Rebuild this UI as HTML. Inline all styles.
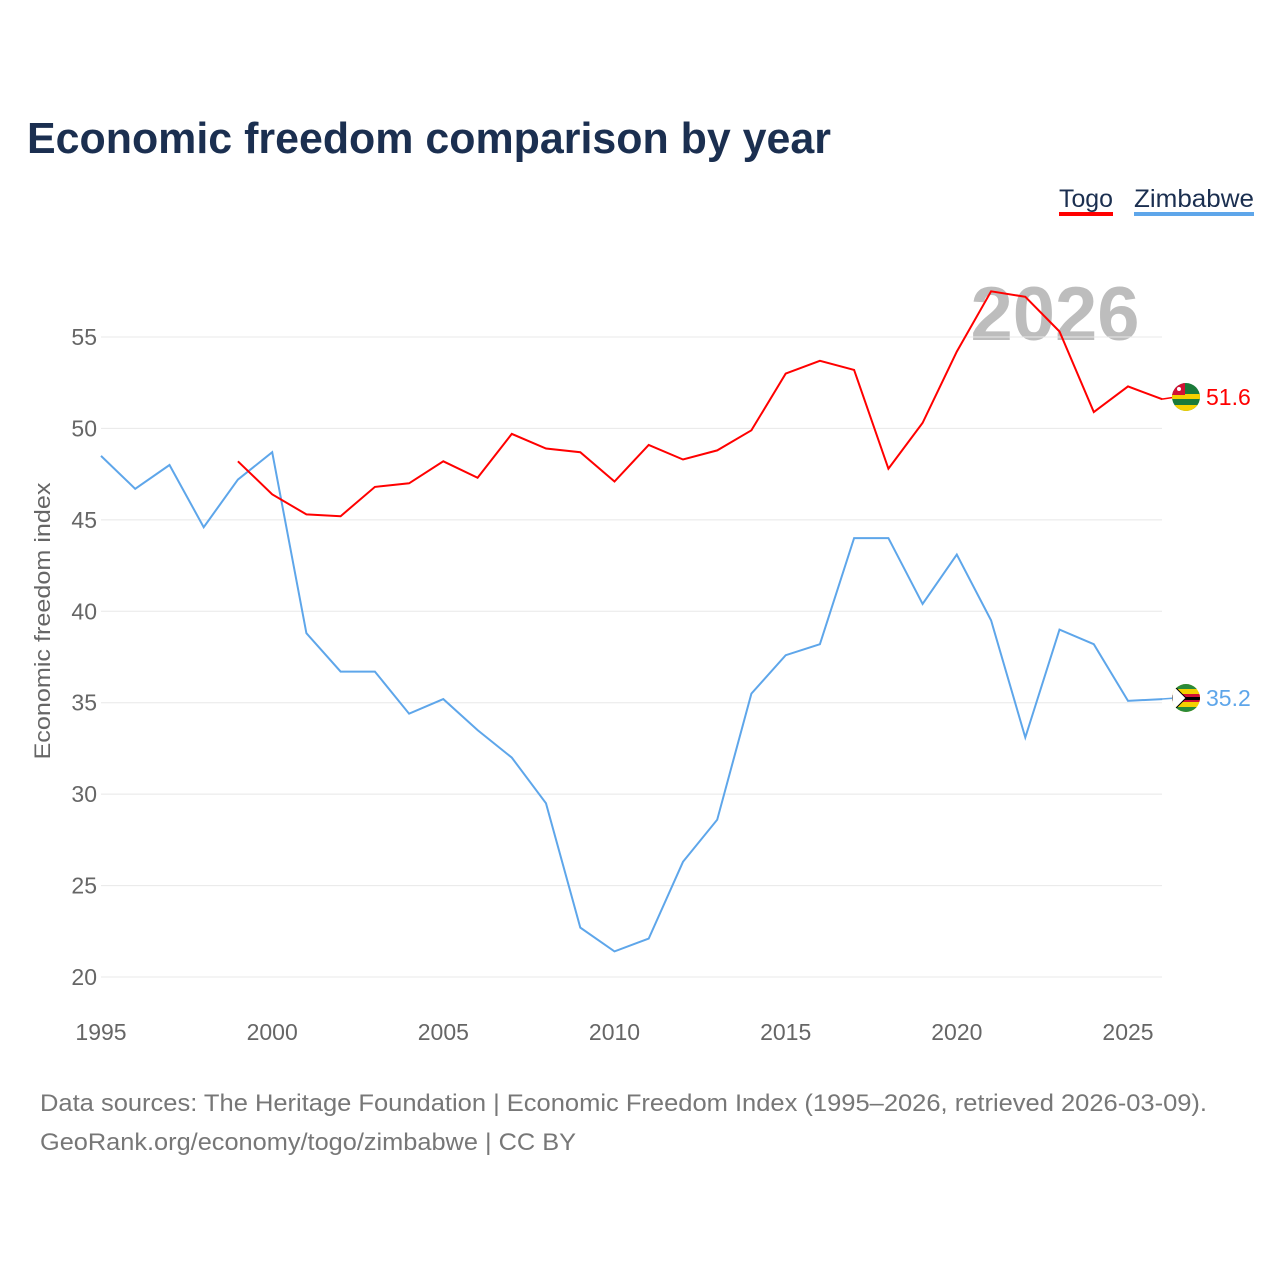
<!DOCTYPE html>
<html><head><meta charset="utf-8"><style>
body{margin:0;background:#fff;width:1280px;height:1280px;overflow:hidden;font-family:"Liberation Sans",sans-serif}
</style></head><body>
<svg id="chart" width="1280" height="1280" xmlns="http://www.w3.org/2000/svg">
<defs>
<clipPath id="clipT"><circle cx="1186" cy="397" r="14"/></clipPath>
<clipPath id="clipZ"><circle cx="1186" cy="698" r="14"/></clipPath>
</defs>
<text x="27" y="153" font-size="44" font-weight="bold" fill="#1b2f50" textLength="804" lengthAdjust="spacingAndGlyphs">Economic freedom comparison by year</text>
<g><text x="1059" y="207" font-size="25" fill="#1b2f50" textLength="54" lengthAdjust="spacingAndGlyphs">Togo</text><rect x="1059" y="212" width="54" height="4" fill="#ff0000"/></g>
<g><text x="1134" y="207" font-size="25" fill="#1b2f50" textLength="120" lengthAdjust="spacingAndGlyphs">Zimbabwe</text><rect x="1134" y="212" width="120" height="4" fill="#5ea6ea"/></g>
<text x="1055" y="340" font-size="76" font-weight="bold" fill="#bdbdbd" text-anchor="middle">2026</text>
<g id="grid"></g><g id="ylabels"></g><g id="xlabels"></g><g id="lines"></g>
<text transform="translate(50,621) rotate(-90)" font-size="22" fill="#666" text-anchor="middle" textLength="277" lengthAdjust="spacingAndGlyphs">Economic freedom index</text>
<text x="40" y="1111" font-size="24" fill="#777" textLength="1167" lengthAdjust="spacingAndGlyphs">Data sources: The Heritage Foundation | Economic Freedom Index (1995–2026, retrieved 2026-03-09).</text>
<text x="40" y="1150" font-size="24" fill="#777" textLength="536" lengthAdjust="spacingAndGlyphs">GeoRank.org/economy/togo/zimbabwe | CC BY</text>
</svg>
<script>
const years=[];for(let y=1995;y<=2026;y++)years.push(y);
const togo=[null,null,null,null,48.2,46.4,45.3,45.2,46.8,47.0,48.2,47.3,49.7,48.9,48.7,47.1,49.1,48.3,48.8,49.9,53.0,53.7,53.2,47.8,50.3,54.2,57.5,57.2,55.3,50.9,52.3,51.6];
const zim=[48.5,46.7,48.0,44.6,47.2,48.7,38.8,36.7,36.7,34.4,35.2,33.5,32.0,29.5,22.7,21.4,22.1,26.3,28.6,35.5,37.6,38.2,44.0,44.0,40.4,43.1,39.5,33.1,39.0,38.2,35.1,35.2];
const yTicks=[20,25,30,35,40,45,50,55];
const xTicks=[1995,2000,2005,2010,2015,2020,2025];
const NS="http://www.w3.org/2000/svg";
const X=y=>101+(y-1995)*1027/30;
const Y=v=>977-(v-20)*640/35;
function mk(t,a,p){const e=document.createElementNS(NS,t);for(const k in a)e.setAttribute(k,a[k]);p.appendChild(e);return e;}
const grid=document.getElementById('grid'),yl=document.getElementById('ylabels'),xl=document.getElementById('xlabels'),lines=document.getElementById('lines');
yTicks.forEach(v=>{
 const l=mk('line',{x1:101,x2:1162,y1:Y(v),y2:Y(v),stroke:'#e8e8e8','stroke-width':1},grid);
 
 
 const t=mk('text',{x:97,y:Y(v)+8,'font-size':23,fill:'#666','text-anchor':'end'},yl);t.textContent=v;
 
 
});
xTicks.forEach(v=>{
 const t=mk('text',{x:X(v),y:1040,'font-size':23,fill:'#666','text-anchor':'middle'},xl);t.textContent=v;
 
 
});
function path(arr){let d='';arr.forEach((v,i)=>{if(v==null)return;d+=(d?'L':'M')+X(years[i]).toFixed(1)+','+Y(v).toFixed(1);});return d;}
const pz=mk('path',{d:path(zim),fill:'none',stroke:'#5ea6ea','stroke-width':2},lines);


const pt=mk('path',{d:path(togo),fill:'none',stroke:'#ff0000','stroke-width':2},lines);


function endMark(v,col,name,flagY,clip,flag){
 const cy=Y(v);
 const g=mk('g',{},lines);
 
 
 mk('line',{x1:1162,x2:1176,y1:cy,y2:flagY,stroke:col,'stroke-width':1.5},g);
 const f=mk('g',{'clip-path':'url(#'+clip+')'},g);
 flag(f,1186,flagY);
 const t=mk('text',{x:1206,y:flagY+8,'font-size':23,fill:col},g);t.textContent=v.toFixed(1);
}
endMark(togo[togo.length-1],'#ff0000','togo-end-label',397,'clipT',(g,cx,cy)=>{
 mk('rect',{x:cx-14,y:cy-14,width:28,height:28,fill:'#1a7a3a'},g);
 mk('rect',{x:cx-14,y:cy-3,width:28,height:5,fill:'#f5d000'},g);
 mk('rect',{x:cx-14,y:cy+8,width:28,height:6,fill:'#f5d000'},g);
 mk('rect',{x:cx-14,y:cy-14,width:13,height:12,fill:'#d21034'},g);
 mk('circle',{cx:cx-7,cy:cy-8,r:2,fill:'#fff'},g);
});
endMark(zim[zim.length-1],'#5ea6ea','zimbabwe-end-label',698,'clipZ',(g,cx,cy)=>{
 mk('rect',{x:cx-14,y:cy-14,width:28,height:28,fill:'#f5d000'},g);
 mk('rect',{x:cx-14,y:cy-14,width:28,height:5,fill:'#2a8a3a'},g);
 mk('rect',{x:cx-14,y:cy+9,width:28,height:5,fill:'#2a8a3a'},g);
 mk('rect',{x:cx-14,y:cy-4,width:28,height:8,fill:'#d21034'},g);
 mk('rect',{x:cx-14,y:cy-1,width:28,height:3,fill:'#000'},g);
 mk('polygon',{points:`${cx-14},${cy-14} ${cx},${cy} ${cx-14},${cy+14}`,fill:'#fff',stroke:'#000','stroke-width':1},g);
});
</script>
</body></html>
